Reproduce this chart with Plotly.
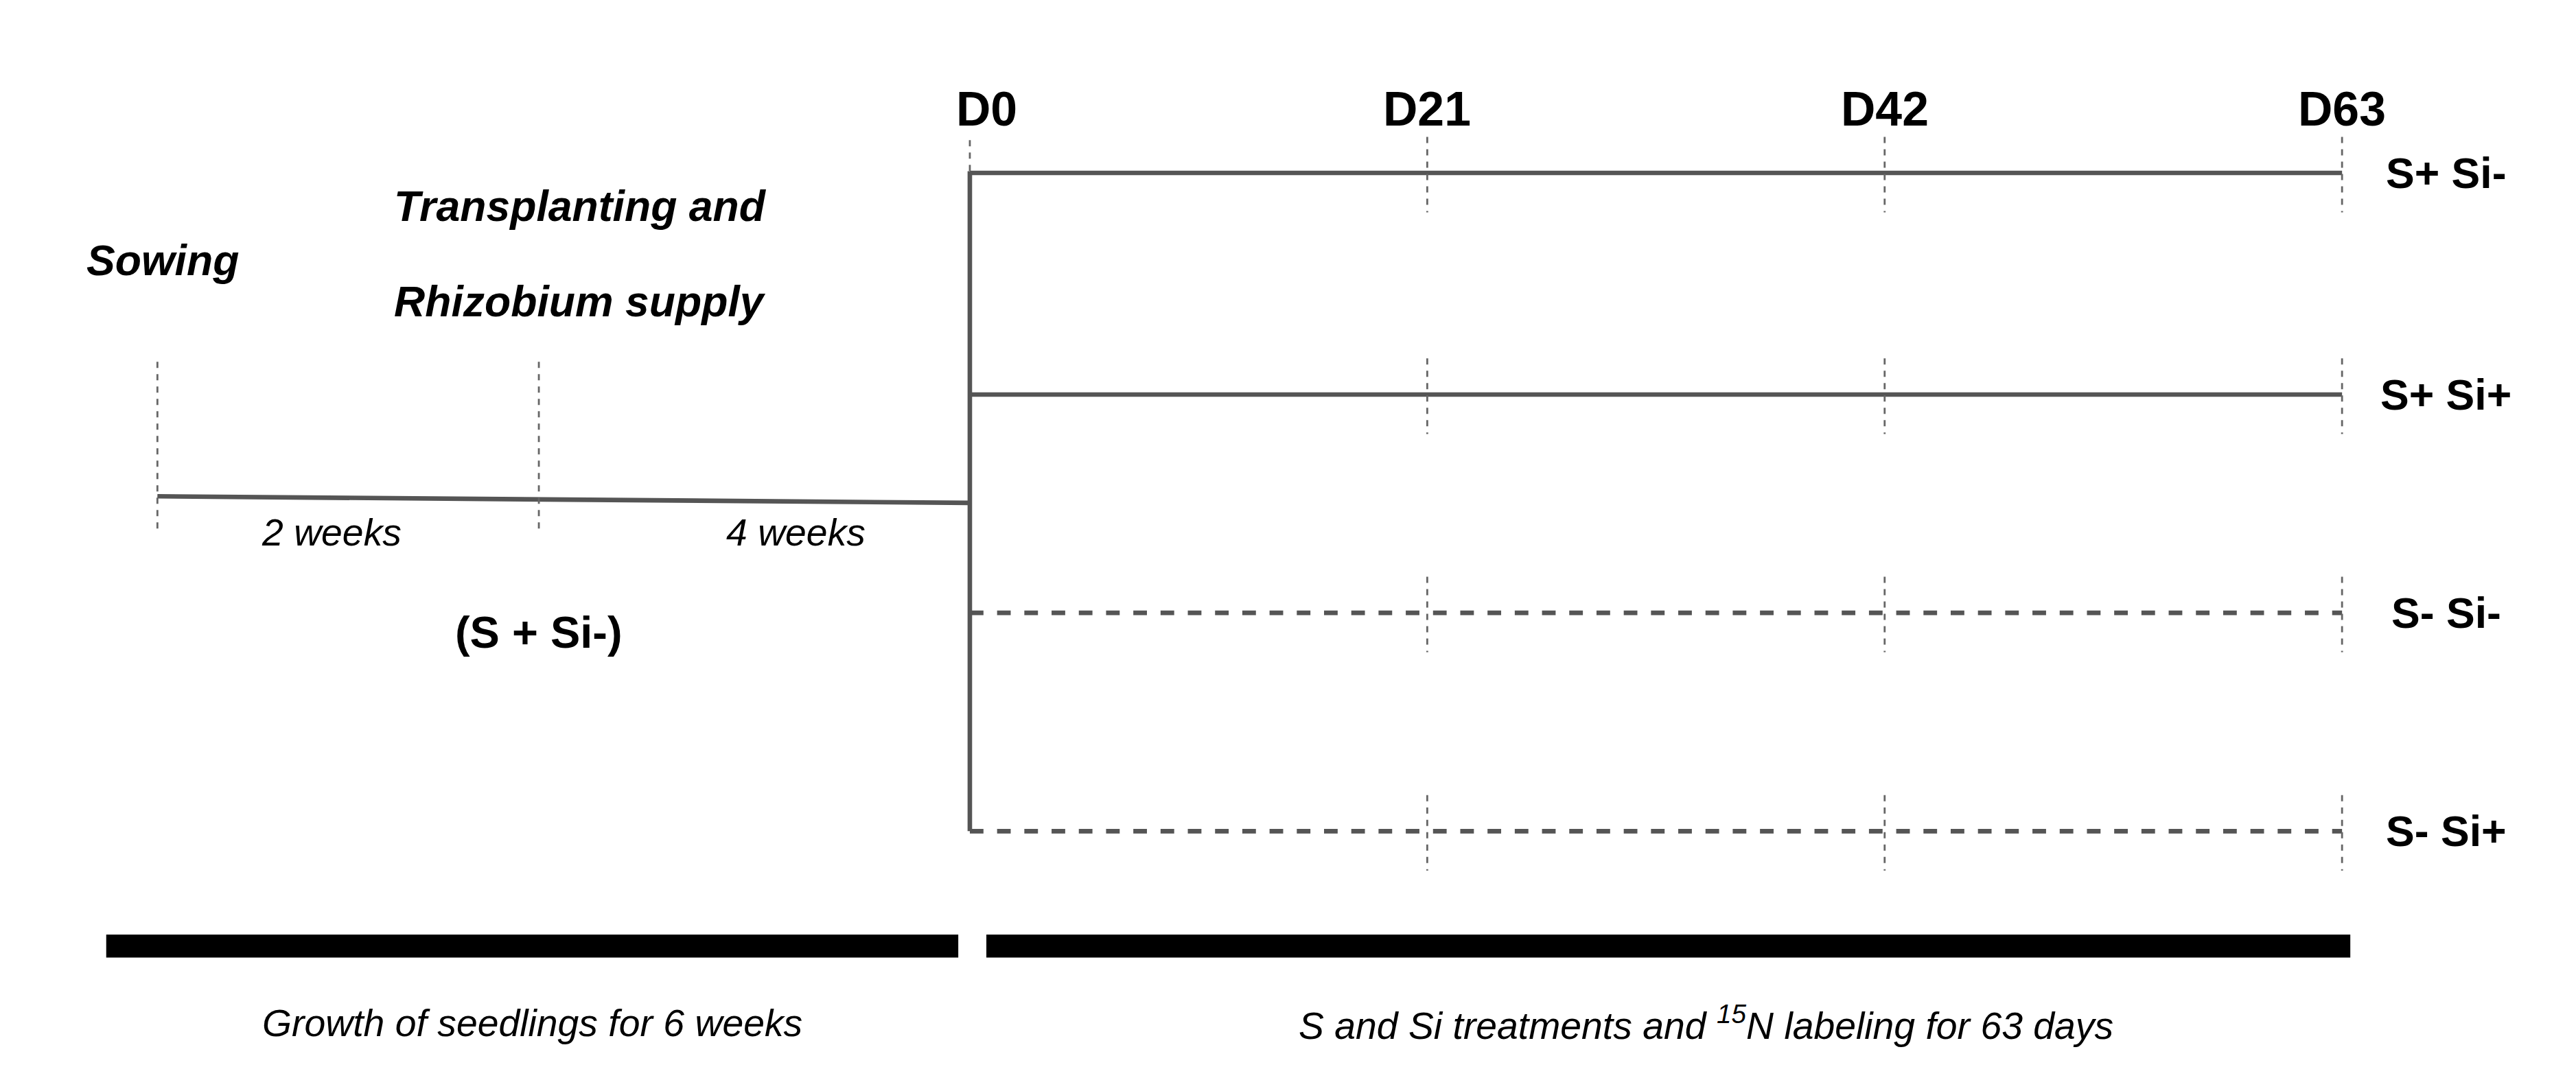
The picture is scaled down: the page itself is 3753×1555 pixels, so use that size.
import plotly.graph_objects as go

W, H = 3753, 1555
S = W / 1560.0  # diagram unit -> px

day_labels = ["D0", "D21", "D42", "D63"]
day_x = [584, 861, 1138, 1415]
treatments = ["S+ Si-", "S+ Si+", "S- Si-", "S- Si+"]
treat_y = [102, 237, 370, 503]
treat_dash = ["solid", "solid", "dash", "dash"]
pre_x = [92, 323, 584]
pre_y = [299, 301, 303]
pre_labels = ["2 weeks", "4 weeks"]

G = "#555555"
fig = go.Figure()
shapes = []
ann = []

def line(x0, y0, x1, y1, w=3.0, dash="solid", c=G):
    shapes.append(dict(type="line", x0=x0, y0=y0, x1=x1, y1=y1,
                       line=dict(color=c, width=w * S / 1.2, dash=dash)))

def text(x, y, t, size, bold=False, italic=False, xa="center"):
    if bold: t = "<b>" + t + "</b>"
    if italic: t = "<i>" + t + "</i>"
    ann.append(dict(x=x, y=y, text=t, showarrow=False, xanchor=xa, yanchor="middle",
                    font=dict(size=size * S, color="black", family="Liberation Sans, Arial")))

fig.add_trace(go.Scatter(x=pre_x, y=pre_y, mode="lines", line=dict(color=G, width=3.3 * S / 1.2),
                         hoverinfo="skip", showlegend=False))
for x in pre_x[:2]:
    line(x, 217, x, 322, 1.4, "dash", "#666666")
for i, t in enumerate(pre_labels):
    text((pre_x[i] + pre_x[i + 1]) / 2 - (10 if i == 0 else -25), 321, t, 23, italic=True)

line(day_x[0], treat_y[0] - 1, day_x[0], treat_y[-1], 3.3)
line(day_x[0], 82, day_x[0], treat_y[0], 1.4, "dash", "#666666")

for ty, tl, td in zip(treat_y, treatments, treat_dash):
    fig.add_trace(go.Scatter(x=[day_x[0], day_x[-1]], y=[ty, ty], mode="lines",
                             line=dict(color=G, width=3.3 * S / 1.2, dash=td),
                             hoverinfo="skip", showlegend=False))
    for x in day_x[1:]:
        line(x, ty - 22, x, ty + 24, 1.4, "dash", "#666666")
    text(1478, ty, tl, 26, bold=True)

for x, l in zip(day_x, day_labels):
    text(x + (10 if l == "D0" else 0), 63, l, 29, bold=True)

shapes.append(dict(type="rect", x0=61, x1=577, y0=566, y1=580, fillcolor="black", line=dict(width=0)))
shapes.append(dict(type="rect", x0=594, x1=1420, y0=566, y1=580, fillcolor="black", line=dict(width=0)))

text(319, 620, "Growth of seedlings for 6 weeks", 23, italic=True)
text(1030, 620, "S and Si treatments and <sup>15</sup>N labeling for 63 days", 23, italic=True)
text(323, 382, "(S + Si-)", 27, bold=True)
text(95, 155, "Sowing", 26, bold=True, italic=True)
text(348, 122, "Transplanting and", 26, bold=True, italic=True)
text(348, 180, "Rhizobium supply", 26, bold=True, italic=True)

fig.update_layout(width=W, height=H, margin=dict(l=0, r=0, t=0, b=0),
                  plot_bgcolor="white", paper_bgcolor="white",
                  shapes=shapes, annotations=ann,
                  xaxis=dict(range=[0, 1560], visible=False, fixedrange=True),
                  yaxis=dict(range=[650, 0], visible=False, fixedrange=True))
fig.write_html("out.html")
